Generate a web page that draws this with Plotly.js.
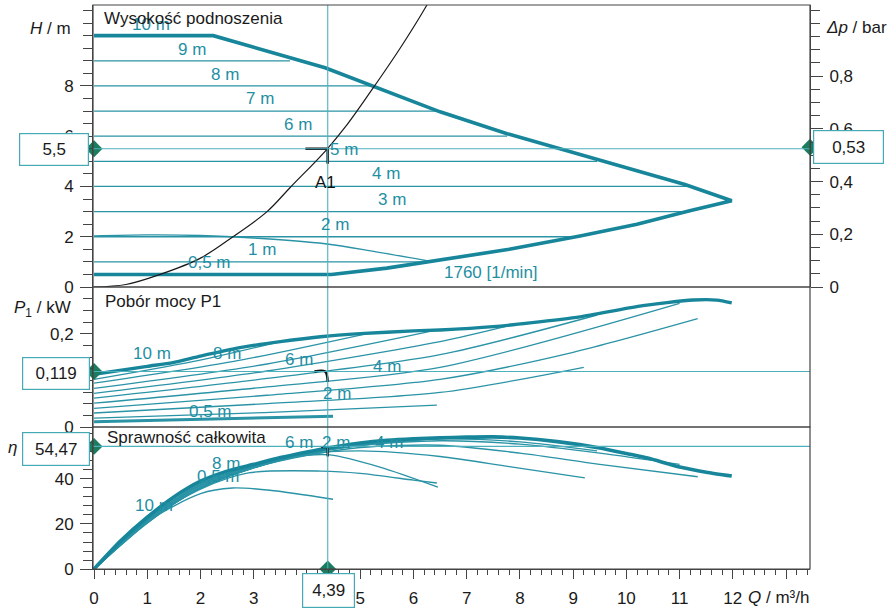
<!DOCTYPE html>
<html><head><meta charset="utf-8">
<script src="https://cdn.plot.ly/plotly-3.0.1.min.js"></script>
<style>body{margin:0;background:#fff}#chart{width:890px;height:609px}</style>
</head><body><div id="chart"></div><script>
// ---------- DATA ----------
const opQ = 4.39, opH = 5.5, opDp = 0.53, opP = 0.119, opEta = 54.47;
const opLabels = ['5,5', '0,53', '0,119', '54,47', '4,39'];

// Head lines (constant delta-p control) in the H panel
const headLevels = [10, 9, 8, 7, 6, 5, 4, 3, 2, 1, 0.5];
const headEndQ   = [2.24, 3.68, 5.24, 6.45, 7.76, 9.45, 11.15, 11.19, 9.1, 6.3, 4.46];

// Operating-range envelope in the H panel (lower branch -> tip -> upper branch)
const envQ = [0, 4.46, 5.5, 6.5, 7.8, 9.13, 10.2, 11.19, 11.98, 11.1, 9.45, 7.76, 6.5, 5.24, 4.34, 2.24, 0];
const envH = [0.5, 0.5, 0.75, 1.08, 1.5, 2.03, 2.5, 3.03, 3.43, 4.08, 5.06, 6.1, 6.97, 7.97, 8.72, 10, 10];

// Minimum speed curve (1760 1/min)
const minQ = [0, 1, 2, 3, 4.34, 5.3, 6.25];
const minH = [2.03, 2.07, 2.05, 1.95, 1.72, 1.4, 1.05];

// System curve (black)
const sysQ = [0, 0.6, 1.24, 2.0, 2.61, 3.25, 3.68, 4.34, 4.75, 5.22, 5.75, 6.22, 6.35];
const sysH = [0, 0.1, 0.5, 1.15, 2.0, 3.0, 3.95, 5.4, 6.45, 7.85, 9.5, 11.1, 11.6];

// Power P1 (kW)
const envPQ = [0, 1, 1.48, 2, 2.74, 3.5, 4.3, 5, 6, 6.5, 7.5, 8.19, 9.13, 10.25, 11.25, 11.7, 11.98];
const envP  = [0.113, 0.13, 0.138, 0.152, 0.17, 0.183, 0.194, 0.2, 0.206, 0.208, 0.215, 0.223, 0.236, 0.259, 0.272, 0.272, 0.266];
const powerQ = [
  [0, 1.85, 3.68],
  [0, 2.6, 5.24],
  [0, 3.25, 6.45],
  [0, 3.25, 6.5, 7.76],
  [0, 3.25, 6.5, 9.45],
  [0, 3.25, 6.5, 11.0],
  [0, 3.25, 6.5, 9.0, 11.34],
  [0, 3.25, 6.5, 9.2],
  [0, 3.2, 6.44],
  [0, 4.49]
];
const powerP = [
  [0.102, 0.14, 0.188],
  [0.094, 0.14, 0.203],
  [0.083, 0.135, 0.208],
  [0.072, 0.12, 0.183, 0.216],
  [0.062, 0.104, 0.155, 0.24],
  [0.051, 0.086, 0.128, 0.265],
  [0.040, 0.068, 0.102, 0.16, 0.232],
  [0.030, 0.05, 0.074, 0.128],
  [0.019, 0.031, 0.047],
  [0.011, 0.023]
];

// Efficiency eta (%)
const envEQ = [0, 0.5, 1, 1.5, 2, 2.5, 3, 3.5, 4, 4.39, 5, 5.5, 6, 6.5, 7, 7.5, 8, 8.7, 9.5, 10, 10.4, 11, 11.5, 11.98];
const envEta = [0, 12.5, 23, 32, 39, 43.5, 46.5, 49.5, 52, 53.8, 56, 57.2, 57.9, 58.3, 58.6, 58.7, 58.2, 56.6, 53.8, 51.3, 49.3, 45.3, 43, 41.3];
const effQ = [
  [0, 1, 2, 3, 3.68],
  [0, 1, 2, 3, 4, 5.24],
  [0, 1, 2, 3, 4, 5, 6.45],
  [0, 1, 2, 3, 4, 5, 6.5, 7.76],
  [0, 1, 2, 3, 4, 5, 6.5, 8, 9.45],
  [0, 1, 2, 3, 4, 5, 6.5, 8, 9.5, 11.0],
  [0, 1, 2, 3, 4, 5, 6.5, 8, 9.5, 11.34],
  [0, 1, 2, 3, 4, 5, 6.5, 7.8, 9.22],
  [0, 1, 2, 3, 4, 4.43, 5.37, 6.46],
  [0, 1, 2, 2.9, 4.27, 5, 6, 6.44],
  [0, 1, 2, 2.6, 3.3, 4.49]
];
const effEta = [
  [0, 22, 38, 46, 50],
  [0, 21.5, 37.5, 46, 51.5, 55.5],
  [0, 21, 37, 45.5, 51.5, 55, 58],
  [0, 21, 36.5, 45.5, 51.5, 55.5, 58, 58.6],
  [0, 20.5, 36, 45.5, 51.5, 55.5, 57.8, 56.5, 52.5],
  [0, 20.5, 36, 45, 51, 55, 57, 55.5, 51.5, 46.5],
  [0, 21, 36, 45, 50.5, 54, 55, 51.5, 46.5, 41],
  [0, 21, 36, 45, 51, 52.5, 50, 45.5, 40.5],
  [0, 22, 37.5, 46, 50.5, 50.7, 45.3, 36.4],
  [0, 21.5, 35.5, 42.7, 43.5, 42.5, 39.5, 38.2],
  [0, 21, 33.5, 36, 35, 31]
];

// Tick values / labels
const xTickVals = [0,1,2,3,4,5,6,7,8,9,10,11,12,13];
const xTickText = ['0','1','2','3','4','5','6','7','8','9','10','11','12',' '];
const hTicks = [0, 2, 4, 6, 8];
const dpTicks = [0, 0.2, 0.4, 0.6, 0.8];
const pTicks = [0, 0.1, 0.2];
const etaTicks = [0, 20, 40];

// Text labels on curves
const hLabels = [['10 m',1.07,10.44],['9 m',1.84,9.44],['8 m',2.46,8.45],['7 m',3.12,7.49],['6 m',3.83,6.45],['5 m',4.69,5.46],['4 m',5.48,4.5],['3 m',5.6,3.5],['2 m',4.53,2.5],['1 m',3.16,1.51],['0,5 m',2.16,0.96],['1760 [1/min]',7.46,0.56]];
const pLabels = [['10 m',1.09,0.157],['8 m',2.5,0.157],['6 m',3.85,0.145],['4 m',5.5,0.13],['2 m',4.56,0.072],['0,5 m',2.18,0.034]];
const eLabels = [['6 m',3.85,56],['2 m',4.54,56],['4 m',5.54,56],['8 m',2.48,47],['0,5 m',2.33,41],['10 m',1.13,28]];

// ---------- STYLE ----------
const TEAL = '#17869b', TEAL_THIN = '#2a93a6', TEAL_TXT = '#1f8fa3', OPL = '#4fb0bd', DIAM = '#1b7c5e', AX = '#444';
const Q_MAX = 13.45, H_MAX = 11.22, DP_MAX = 1.07, P_MAX = 0.3, ETA_MAX = 63.1;
const FONT = 'Liberation Sans, Arial, sans-serif';
const TICKFONT = {family:FONT, size:17, color:'#1a1a1a'};

const traces = [];
// H panel
headLevels.forEach((h, i) => traces.push({x:[0, headEndQ[i]], y:[h, h], xaxis:'x', yaxis:'y', mode:'lines', line:{color:TEAL_THIN, width:1.3}}));
traces.push({x:minQ, y:minH, xaxis:'x', yaxis:'y', mode:'lines', line:{color:TEAL_THIN, width:1.3, shape:'spline'}});
traces.push({x:envQ, y:envH, xaxis:'x', yaxis:'y', mode:'lines', line:{color:TEAL, width:3.6}});
traces.push({x:sysQ, y:sysH, xaxis:'x', yaxis:'y', mode:'lines', line:{color:'#1a1a1a', width:1.2, shape:'spline'}});
traces.push({x:[opQ-0.42, opQ, opQ], y:[opH, opH, opH-0.6], xaxis:'x', yaxis:'y', mode:'lines', line:{color:'#111', width:2.6}});
// P panel
powerQ.forEach((q, i) => traces.push({x:q, y:powerP[i], xaxis:'x', yaxis:'y3', mode:'lines', line:{color:TEAL_THIN, width: i === powerQ.length-1 ? 3 : 1.3, shape:'spline', smoothing:0.8}}));
traces.push({x:envPQ, y:envP, xaxis:'x', yaxis:'y3', mode:'lines', line:{color:TEAL, width:3.4, shape:'spline', smoothing:0.6}});
traces.push({x:[opQ-0.25, opQ-0.05, opQ], y:[opP, opP, opP-0.022], xaxis:'x', yaxis:'y3', mode:'lines', line:{color:'#111', width:2.4, shape:'spline'}});
// eta panel
effQ.forEach((q, i) => traces.push({x:q, y:effEta[i], xaxis:'x', yaxis:'y4', mode:'lines', line:{color:TEAL_THIN, width:1.4, shape:'spline', smoothing:0.8}}));
traces.push({x:envEQ, y:envEta, xaxis:'x', yaxis:'y4', mode:'lines', line:{color:TEAL, width:3.6, shape:'spline', smoothing:0.6}});
traces.push({x:[opQ-0.12, opQ, opQ], y:[opEta-0.3, opEta-0.3, opEta-4.5], xaxis:'x', yaxis:'y4', mode:'lines', line:{color:'#111', width:2.4}});
// diamonds
const dm = {symbol:'diamond', size:13, color:DIAM};
traces.push({x:[0], y:[opH], xaxis:'x', yaxis:'y', mode:'markers', marker:dm, cliponaxis:false});
traces.push({x:[Q_MAX], y:[opDp], xaxis:'x', yaxis:'y2', mode:'markers', marker:dm, cliponaxis:false});
traces.push({x:[0], y:[opP], xaxis:'x', yaxis:'y3', mode:'markers', marker:dm, cliponaxis:false});
traces.push({x:[0], y:[opEta], xaxis:'x', yaxis:'y4', mode:'markers', marker:dm, cliponaxis:false});
traces.push({x:[opQ], y:[0], xaxis:'x', yaxis:'y4', mode:'markers', marker:dm, cliponaxis:false});

// ---------- LAYOUT ----------
const L = 93, R = 810, T = 5, B = 569;
const px = v => (v - L) / (R - L);
const py = v => (B - v) / (B - T);
const dTop = [py(287), 1], dMid = [py(427), py(287)], dBot = [0, py(427)];

function yax(extra) {
  return Object.assign({anchor:'x', showgrid:false, zeroline:false, showline:true, linecolor:AX, linewidth:1,
    ticks:'outside', ticklen:12, tickwidth:1, tickcolor:AX, ticklabelstandoff:3, tickmode:'array',
    tickfont:TICKFONT}, extra);
}
const minorY = d => ({dtick:d, tick0:0, ticks:'outside', ticklen:9, tickwidth:1, tickcolor:AX, showgrid:false});

const annotations = [];
const addTxt = (t, x, y, xref, yref, o) => annotations.push(Object.assign({text:t, x:x, y:y, xref:xref, yref:yref, showarrow:false, xanchor:'center', yanchor:'middle', font:{family:FONT, size:17, color:TEAL_TXT}}, o||{}));
hLabels.forEach(a => addTxt(a[0], a[1], a[2], 'x', 'y'));
pLabels.forEach(a => addTxt(a[0], a[1], a[2], 'x', 'y3'));
eLabels.forEach(a => addTxt(a[0], a[1], a[2], 'x', 'y4'));
addTxt('A1', opQ - 0.05, 4.14, 'x', 'y', {font:{family:FONT, size:17, color:'#111'}});
const black = {xanchor:'left', font:{family:FONT, size:17, color:'#1a1a1a'}};
addTxt('Wysokość podnoszenia', px(102), py(19), 'paper', 'paper', black);
addTxt('Pobór mocy P1', px(103), py(301), 'paper', 'paper', black);
addTxt('Sprawność całkowita', px(105), py(437), 'paper', 'paper', black);
const axt = {font:{family:FONT, size:17, color:'#1a1a1a'}};
addTxt('<i>H</i> / m', px(73), py(29), 'paper', 'paper', Object.assign({xanchor:'right'}, axt));
addTxt('<i>Δp</i> / bar', px(824), py(27), 'paper', 'paper', Object.assign({xanchor:'left'}, axt));
addTxt('<i>P</i><sub>1</sub> / kW', px(73), py(309), 'paper', 'paper', Object.assign({xanchor:'right'}, axt));
addTxt('<i>η</i>', px(12), py(448), 'paper', 'paper', Object.assign({xanchor:'center'}, axt));
addTxt('<i>Q</i> / m³/h', px(746), py(597), 'paper', 'paper', Object.assign({xanchor:'left'}, axt));
// value boxes
const boxes = [[opLabels[0], 54, 149, 68, 31], [opLabels[1], 848, 146.5, 69, 32], [opLabels[2], 55.5, 373, 66, 31], [opLabels[3], 55.5, 448.5, 66, 32], [opLabels[4], 328, 591, 51, 33]];
boxes.forEach(b => addTxt(b[0], px(b[1]), py(b[2]), 'paper', 'paper', {width:b[3], height:b[4], borderpad:0, bgcolor:'#fff', bordercolor:'#45a9b6', borderwidth:1.2, font:{family:FONT, size:17, color:'#1a1a1a'}}));

const shapes = [
  {type:'line', xref:'x', yref:'paper', x0:opQ, x1:opQ, y0:0, y1:1, line:{color:OPL, width:1.1}},
  {type:'line', xref:'paper', yref:'y', x0:0, x1:1, y0:opH, y1:opH, line:{color:OPL, width:1.1}},
  {type:'line', xref:'paper', yref:'y3', x0:0, x1:1, y0:opP, y1:opP, line:{color:OPL, width:1.1}},
  {type:'line', xref:'paper', yref:'y4', x0:0, x1:1, y0:opEta, y1:opEta, line:{color:OPL, width:1.1}},
  {type:'rect', xref:'paper', yref:'paper', x0:0, x1:1, y0:dTop[0], y1:dTop[1], line:{color:AX, width:1.2}},
  {type:'rect', xref:'paper', yref:'paper', x0:0, x1:1, y0:dMid[0], y1:dMid[1], line:{color:AX, width:1.2}},
  {type:'rect', xref:'paper', yref:'paper', x0:0, x1:1, y0:dBot[0], y1:dBot[1], line:{color:AX, width:1.2}}
];

const layout = {
  width:890, height:609,
  margin:{l:L, r:890-R, t:T, b:609-B},
  paper_bgcolor:'#fff', plot_bgcolor:'#fff',
  showlegend:false, separators:', ',
  font:{family:FONT, size:16, color:'#1a1a1a'},
  xaxis:{domain:[0,1], range:[-0.02, Q_MAX], anchor:'y4', tickmode:'array', tickvals:xTickVals, ticktext:xTickText,
    ticks:'outside', ticklen:9, tickwidth:1, tickcolor:AX, ticklabelstandoff:5,
    minor:{dtick:0.2, tick0:0, ticks:'outside', ticklen:5, tickwidth:1, tickcolor:AX, showgrid:false},
    showline:true, linecolor:AX, showgrid:false, zeroline:false, tickfont:TICKFONT},
  yaxis: yax({domain:dTop, range:[0, H_MAX], tickvals:hTicks, ticktext:hTicks.map(String), minor:minorY(0.5)}),
  yaxis2: yax({overlaying:'y', side:'right', range:[0, DP_MAX], tickvals:dpTicks, ticktext:dpTicks.map(v => String(v).replace('.', ',')), minor:minorY(0.05)}),
  yaxis3: yax({domain:dMid, range:[0, P_MAX], tickvals:pTicks, ticktext:pTicks.map(v => String(v).replace('.', ',')), minor:minorY(0.025)}),
  yaxis4: yax({domain:dBot, range:[0, ETA_MAX], tickvals:etaTicks, ticktext:etaTicks.map(String), minor:minorY(4)}),
  annotations:annotations, shapes:shapes
};

Plotly.newPlot('chart', traces, layout, {staticPlot:true, displayModeBar:false});
</script></body></html>
